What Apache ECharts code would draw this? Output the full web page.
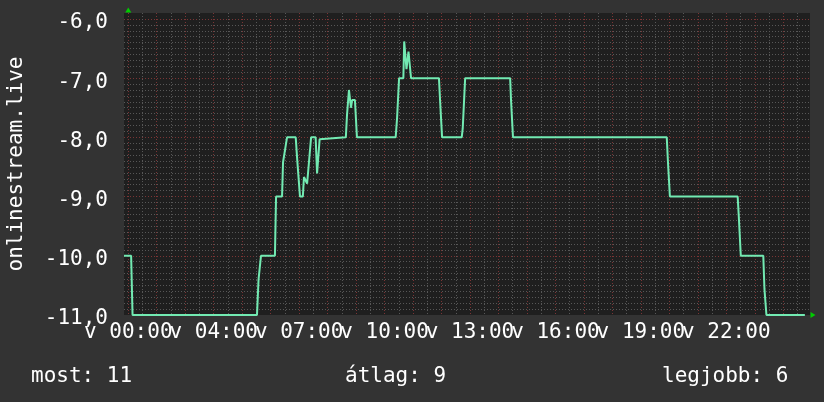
<!DOCTYPE html>
<html><head><meta charset="utf-8">
<script src="https://cdn.jsdelivr.net/npm/echarts@6/dist/echarts.min.js"></script>
<style>html,body{margin:0;padding:0;background:#333333;}#c{width:824px;height:402px;}</style>
</head><body><div id="c"></div>
<script>
// time in hours from the "v 00:00" label, value = negative rank
const hours = [-0.15, 0.10, 0.15, 4.52, 4.575, 4.63, 4.66, 5.15, 5.19, 5.40, 5.435, 5.48, 5.505, 5.55, 5.575, 5.88, 5.93, 6.00, 6.03, 6.13, 6.17, 6.24, 6.28, 6.31, 6.345, 6.38, 6.42, 6.58, 6.63, 6.68, 6.72, 6.79, 7.64, 7.68, 7.72, 7.75, 7.79, 7.82, 7.86, 7.96, 8.03, 9.39, 9.44, 9.47, 9.51, 9.66, 9.69, 9.73, 9.77, 9.81, 9.84, 9.90, 9.93, 10.91, 10.95, 10.98, 11.02, 11.71, 11.745, 11.79, 11.83, 13.41, 13.44, 13.48, 13.51, 18.91, 18.95, 18.99, 19.02, 21.40, 21.44, 21.47, 21.51, 22.30, 22.34, 22.38, 22.41, 23.76];
const values = [-10, -10, -11, -11, -10.4, -10.4, -10, -10, -9, -9, -8.42, -8.42, -8.21, -8.21, -8, -8, -8.36, -8.36, -9, -9, -8.67, -8.67, -8.78, -8.78, -8.42, -8.42, -8, -8, -8.61, -8.61, -8.03, -8, -8, -7.63, -7.63, -7.2, -7.2, -7.5, -7.37, -7.37, -8, -8, -7.67, -7.67, -7, -7, -6.38, -6.38, -6.85, -6.85, -6.55, -6.55, -7, -7, -7.38, -7.38, -8, -8, -7.85, -7.85, -7, -7, -7.36, -7.36, -8, -8, -8.4, -8.4, -9, -9, -9.34, -9.34, -10, -10, -10.56, -10.56, -11, -11];
const xTickHours = [0, 3, 6, 9, 12, 15, 18, 21];
const xTickLabels = ['v 00:00', 'v 04:00', 'v 07:00', 'v 10:00', 'v 13:00', 'v 16:00', 'v 19:00', 'v 22:00'];
const yTickValues = [-11, -10, -9, -8, -7, -6];
const yTickLabels = ['-11,0', '-10,0', '-9,0', '-8,0', '-7,0', '-6,0'];
const yTitle = 'onlinestream.live';
const legendTexts = ['most: 11', 'átlag: 9', 'legjobb: 6'];

const FONT = '"DejaVu Sans Mono", monospace';
const FS = 21;
const RED = '#7a3535';
const GREY = '#575757';
const LINE = '#72eab2';
const ARROW = '#00cc00';

function findLabel(list, labels, v) {
  for (let i = 0; i < list.length; i++) if (Math.abs(list[i] - v) < 1e-6) return labels[i];
  return '';
}

const chart = echarts.init(document.getElementById('c'), null, {renderer: 'canvas', width: 824, height: 402});
const legendPos = [31, 345, 662];
chart.setOption({
  backgroundColor: '#333333',
  animation: false,
  title: legendTexts.map((t, i) => ({
    text: t, left: legendPos[i], top: 366, padding: 0,
    textStyle: {color: '#ffffff', fontFamily: FONT, fontSize: FS, fontWeight: 'normal'}
  })),
  grid: {left: 124, right: 14, top: 13, bottom: 87, show: true, backgroundColor: '#1f1f1f', borderWidth: 0, containLabel: false, outerBoundsMode: 'none'},
  xAxis: {
    type: 'value', min: -0.15, max: 23.94, splitNumber: 24,
    axisLine: {show: true, symbol: ['none', 'triangle'], symbolSize: [6, 5], symbolOffset: [0, 3], lineStyle: {color: ARROW, opacity: 0}},
    axisTick: {show: false},
    axisLabel: {
      color: '#ffffff', fontFamily: FONT, fontSize: FS, margin: 7, hideOverlap: false,
      showMinLabel: false, showMaxLabel: false,
      formatter: v => findLabel(xTickHours, xTickLabels, v)
    },
    splitLine: {show: true, showMinLine: false, showMaxLine: false, lineStyle: {color: RED, type: [1, 2], width: 1}},
    minorTick: {show: false, splitNumber: 2},
    minorSplitLine: {show: true, lineStyle: {color: GREY, type: [1, 2], width: 1}}
  },
  yAxis: {
    type: 'value', min: -11, max: -5.9, splitNumber: 5,
    name: yTitle, nameLocation: 'middle', nameRotate: 90, nameGap: 97,
    nameTextStyle: {color: '#ffffff', fontFamily: FONT, fontSize: FS},
    axisLine: {show: true, symbol: ['none', 'triangle'], symbolSize: [6, 5], symbolOffset: [0, 3], lineStyle: {color: ARROW, opacity: 0}},
    axisTick: {show: false},
    axisLabel: {
      color: '#ffffff', fontFamily: FONT, fontSize: FS, margin: 16, hideOverlap: false,
      showMaxLabel: false, verticalAlign: 'top', lineHeight: 8,
      formatter: v => findLabel(yTickValues, yTickLabels, v)
    },
    splitLine: {show: true, showMinLine: false, showMaxLine: false, lineStyle: {color: RED, type: [1, 2], width: 1}},
    minorTick: {show: false, splitNumber: 10},
    minorSplitLine: {show: true, lineStyle: {color: GREY, type: [1, 2], width: 1}}
  },
  series: [{
    type: 'line', showSymbol: false, clip: true,
    data: hours.map((h, i) => [h, values[i]]),
    lineStyle: {color: LINE, width: 2},
    itemStyle: {color: LINE}
  }]
});
</script>
</body></html>
